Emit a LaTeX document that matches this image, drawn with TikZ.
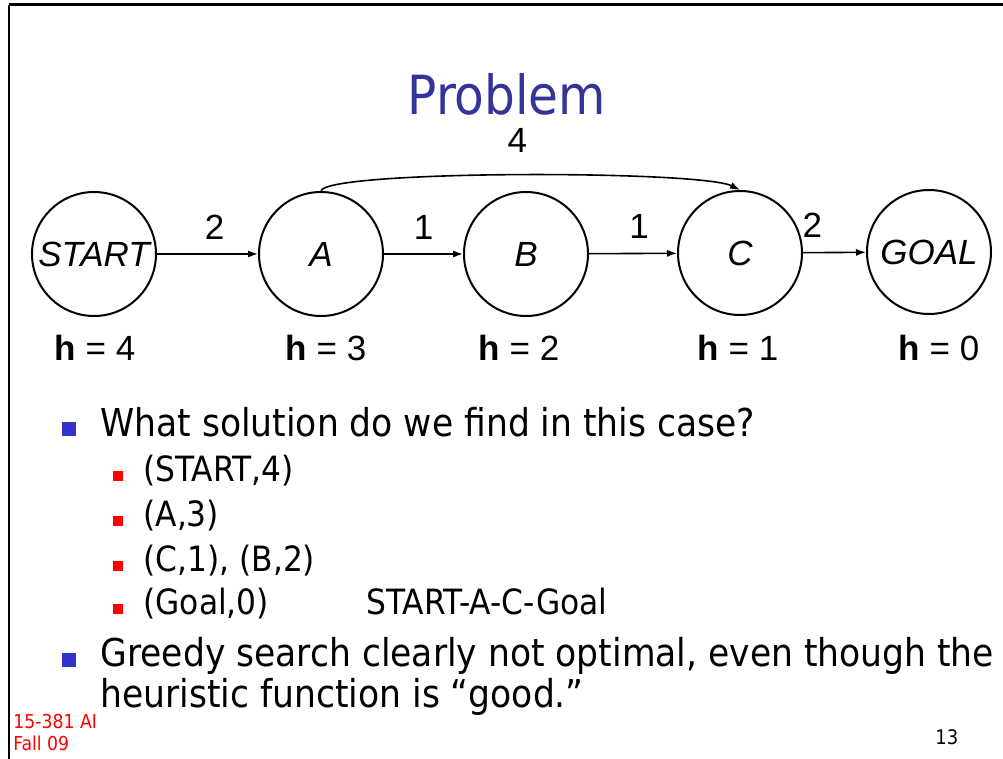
\documentclass[tikz,border=0pt]{standalone}
\usepackage{fontspec}
\setmainfont{DejaVu Sans Condensed}
\newfontfamily\arialfont{Liberation Sans}
\usetikzlibrary{arrows.meta, positioning}
\definecolor{mytitle}{RGB}{51,51,153}
\definecolor{myblue}{RGB}{51,51,204}
\definecolor{myred}{RGB}{255,0,0}
\tikzset{
  state/.style={circle, draw, line width=1pt, minimum size=62pt, inner sep=0pt,
    font=\arialfont\itshape\fontsize{17.5}{20}\selectfont},
  arrow/.style={-{Latex[length=5pt,width=3.6pt]}, line width=0.8pt},
  cost/.style={font=\arialfont\fontsize{17.5}{20}\selectfont, inner sep=0pt},
  hval/.style={font=\arialfont\fontsize{17.5}{20}\selectfont, inner sep=0pt},
  bodytext/.style={anchor=base west, inner sep=0pt, font=\fontsize{19.2}{23}\selectfont},
  subtext/.style={anchor=base west, inner sep=0pt, font=\fontsize{17.4}{20}\selectfont},
  mainbullet/.style={fill=myblue, minimum size=7pt, inner sep=0pt},
  subbullet/.style={fill=myred, minimum size=5pt, inner sep=0pt},
  foot/.style={anchor=base west, inner sep=0pt, font=\fontsize{9.6}{11}\selectfont, text=myred}
}

\begin{document}
\begin{tikzpicture}[x=0.5pt, y=-0.5pt]
  \useasboundingbox (0,0) rectangle (1003,759);

  % Slide frame
  \draw[line width=1.5pt] (9,5) -- (1003,5);
  \draw[line width=1pt] (9,5) -- (9,759);

  % Title
  \node[inner sep=0pt, anchor=base, text=mytitle, font=\fontsize{27}{30}\selectfont] (title) at (507,115) {Problem};

  % States
  \node[state] (start) at (94,254) {START};
  \node[state] (a) at (321,254) {A};
  \node[state] (b) at (526,254) {B};
  \node[state] (c) at (740,253) {C};
  \node[state] (goal) at (929,252) {GOAL};

  % Edges with costs
  \draw[arrow] (start) -- node[cost, above=7pt, pos=0.57] (c1) {2} (a);
  \draw[arrow] (a) -- node[cost, above=7pt] (c2) {1} (b);
  \draw[arrow] (b) -- node[cost, above=7pt, pos=0.57] (c3) {1} (c);
  \draw[arrow] (c) -- node[cost, above=7pt, pos=0.15] (c4) {2} (goal);
  \draw[arrow] (a.north) .. controls (326,170) and (700,170) .. node[cost, above=11pt] (c5) {4} (c.north);

  % Heuristic values
  \node[hval] (h4) at (95,348) {\textbf{h} = 4};
  \node[hval] (h3) at (326,348) {\textbf{h} = 3};
  \node[hval] (h2) at (519,348) {\textbf{h} = 2};
  \node[hval] (h1) at (738,348) {\textbf{h} = 1};
  \node[hval] (h0) at (939,348) {\textbf{h} = 0};

  % Bullets
  \node[mainbullet] (m1) at (69,429) {};
  \node[bodytext] (q) at (100,437) {What solution do we find in this case?};
  \node[subbullet] (s1) at (118,476) {};
  \node[subtext] (t1) at (143,482) {(START,4)};
  \node[subbullet] (s2) at (118,521) {};
  \node[subtext] (t2) at (143,527) {(A,3)};
  \node[subbullet] (s3) at (118,566) {};
  \node[subtext] (t3) at (143,572) {(C,1), (B,2)};
  \node[subbullet] (s4) at (118,609) {};
  \node[subtext] (t4) at (143,615) {(Goal,0)};
  \node[subtext] (path) at (366,615) {START-A-C-Goal};
  \node[mainbullet] (m2) at (69,660) {};
  \node[bodytext] (g1) at (100,667) {Greedy search clearly not optimal, even though the};
  \node[bodytext] (g2) at (100,707) {heuristic function is “good.”};

  % Footer
  \node[foot] (course) at (13,728) {15-381 AI};
  \node[foot] (term) at (13,750) {Fall 09};
  \node[anchor=base west, inner sep=0pt, font=\fontsize{10}{12}\selectfont] (page) at (935,745) {13};
\end{tikzpicture}
\end{document}
